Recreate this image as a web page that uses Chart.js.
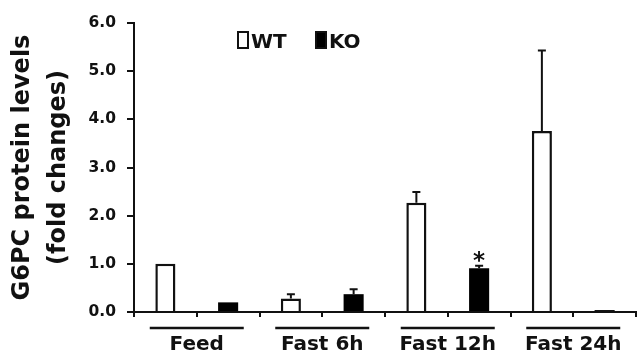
<!DOCTYPE html>
<html>
<head>
<meta charset="utf-8">
<script src="https://cdn.jsdelivr.net/npm/chart.js@4/dist/chart.umd.min.js"></script>
<style>
    html, body { margin: 0; padding: 0; background: #fff; }
    #wrap { width: 637px; height: 356px; position: relative; }
</style>
</head>
<body>
<div id="wrap"><canvas id="g6pcChart"></canvas></div>
<script>
    const groups = ['Feed', 'Fast 6h', 'Fast 12h', 'Fast 24h'];
    const genotypes = ['WT', 'KO'];
    const wtValues = [1.0, 0.28, 2.27, 3.76];
    const koValues = [0.2, 0.37, 0.91, 0.04];
    const wtErrors = [0, 0.09, 0.22, 1.67];
    const koErrors = [0, 0.10, 0.05, 0];
    const koMarks = ['', '', '*', ''];
    const yTicks = [0, 1, 2, 3, 4, 5, 6];

    const boldFont = 'DejaVu Sans';
    const ink = '#111';

    // one slot per bar, WT then KO in each group
    const labels = [];
    const wtData = [];
    const koData = [];
    const wtErr = [];
    const koErr = [];
    const koStar = [];
    groups.forEach((g, i) => {
        labels.push(g + ' ' + genotypes[0], g + ' ' + genotypes[1]);
        wtData.push(wtValues[i], null);
        koData.push(null, koValues[i]);
        wtErr.push(wtErrors[i], 0);
        koErr.push(0, koErrors[i]);
        koStar.push('', koMarks[i]);
    });

    const errorBars = {
        id: 'errorBars',
        afterDatasetsDraw(chart) {
            const ctx = chart.ctx;
            const y = chart.scales.y;
            ctx.save();
            ctx.strokeStyle = ink;
            ctx.lineWidth = 2;
            chart.data.datasets.forEach((ds, di) => {
                const meta = chart.getDatasetMeta(di);
                ds.errors.forEach((err, i) => {
                    const v = ds.data[i];
                    if (v === null) return;
                    const bar = meta.data[i];
                    const top = y.getPixelForValue(v + err);
                    if (err > 0) {
                        ctx.beginPath();
                        ctx.moveTo(bar.x, bar.y);
                        ctx.lineTo(bar.x, top);
                        ctx.moveTo(bar.x - 4, top);
                        ctx.lineTo(bar.x + 4, top);
                        ctx.stroke();
                    }
                    if (ds.marks[i]) {
                        ctx.fillStyle = ink;
                        ctx.font = 'bold 23px "' + boldFont + '"';
                        ctx.textAlign = 'center';
                        ctx.textBaseline = 'alphabetic';
                        ctx.fillText(ds.marks[i], bar.x, top + 2);
                    }
                });
            });
            ctx.restore();
        }
    };

    const groupLabels = {
        id: 'groupLabels',
        afterDraw(chart) {
            const ctx = chart.ctx;
            const x = chart.scales.x;
            const base = chart.chartArea.bottom;
            ctx.save();
            ctx.strokeStyle = ink;
            ctx.fillStyle = ink;
            ctx.lineWidth = 2.5;
            ctx.font = 'bold 20px "' + boldFont + '"';
            ctx.textAlign = 'center';
            ctx.textBaseline = 'alphabetic';
            groups.forEach((g, i) => {
                const c = (x.getPixelForValue(i * 2) + x.getPixelForValue(i * 2 + 1)) / 2;
                ctx.beginPath();
                ctx.moveTo(c - 47, base + 16);
                ctx.lineTo(c + 47, base + 16);
                ctx.stroke();
                ctx.fillText(g, c, base + 38);
            });
            ctx.restore();
        }
    };

    const boxLegend = {
        id: 'boxLegend',
        afterDraw(chart) {
            const ctx = chart.ctx;
            const starts = [237, 315];
            ctx.save();
            ctx.font = 'bold 20px "' + boldFont + '"';
            ctx.textBaseline = 'alphabetic';
            chart.data.datasets.forEach((ds, i) => {
                const x0 = starts[i];
                ctx.fillStyle = ds.backgroundColor;
                ctx.fillRect(x0, 31, 12, 18);
                ctx.strokeStyle = ink;
                ctx.lineWidth = 2;
                ctx.strokeRect(x0 + 1, 32, 10, 16);
                ctx.fillStyle = ink;
                ctx.fillText(ds.label, x0 + 14, 47.5);
            });
            ctx.restore();
        }
    };

    const ctx = document.getElementById('g6pcChart').getContext('2d');
    const g6pcChart = new Chart(ctx, {
        type: 'bar',
        data: {
            labels: labels,
            datasets: [
                { label: genotypes[0], data: wtData, errors: wtErr, marks: ['', '', '', '', '', '', '', ''],
                  backgroundColor: '#ffffff', borderColor: ink, borderWidth: 2.5, borderSkipped: 'start' },
                { label: genotypes[1], data: koData, errors: koErr, marks: koStar,
                  backgroundColor: '#000000', borderColor: '#000000', borderWidth: 0 }
            ]
        },
        options: {
            responsive: true,
            maintainAspectRatio: false,
            animation: false,
            skipNull: true,
            categoryPercentage: 0.8,
            barPercentage: 0.4,
            layout: { padding: { top: 23, right: 1, left: 0, bottom: 0 } },
            plugins: {
                legend: { display: false },
                tooltip: { enabled: false }
            },
            scales: {
                x: {
                    offset: true,
                    grid: { display: true, offset: true, drawOnChartArea: false, tickLength: 5, color: ink, lineWidth: 2 },
                    border: { display: true, color: ink, width: 2 },
                    ticks: { display: false },
                    afterFit(scale) { scale.height = 44; }
                },
                y: {
                    min: 0,
                    max: 6,
                    afterBuildTicks(scale) { scale.ticks = yTicks.map(v => ({ value: v })); },
                    grid: { display: true, drawOnChartArea: false, tickLength: 7, color: ink, lineWidth: 2 },
                    border: { display: true, color: ink, width: 2 },
                    ticks: {
                        color: ink,
                        padding: 11,
                        font: { family: boldFont, size: 15.5, weight: 'bold' },
                        callback: v => v.toFixed(1)
                    },
                    title: {
                        display: true,
                        text: ['G6PC protein levels', '(fold changes)'],
                        color: ink,
                        padding: { top: 5, bottom: 0 },
                        font: { family: boldFont, size: 24, weight: 'bold', lineHeight: 1.5 }
                    },
                    afterFit(scale) { scale.width = 134; }
                }
            }
        },
        plugins: [errorBars, groupLabels, boxLegend]
    });
</script>
</body>
</html>
